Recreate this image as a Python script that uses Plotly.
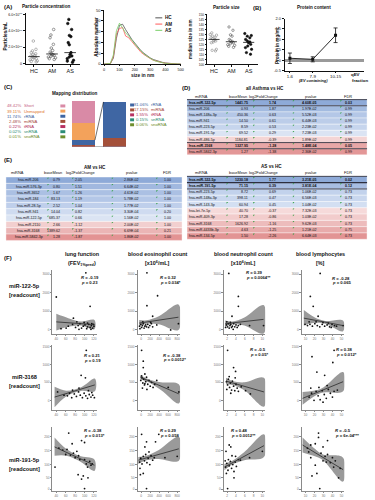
import numpy as np
import plotly.graph_objects as go

W, H = 375, 500
FONT = "Liberation Sans, Arial, sans-serif"

# ---------------- DATA ----------------
GROUPS = ["HC", "AM", "AS"]
CONC_HC = [2.76e10, 1.74e10, 1.55e10, 1.34e10, 1.2e10, 1.13e10, 1.0e10, 0.93e10, 0.85e10,
           0.8e10, 0.73e10, 0.6e10, 0.53e10, 0.45e10, 0.33e10, 0.25e10, 0.2e10]
CONC_AM = [4.17e10, 3.5e10, 3.16e10, 2.35e10, 1.9e10, 1.6e10, 1.4e10, 1.25e10, 1.1e10,
           1.06e10, 1.0e10, 0.9e10, 0.8e10, 0.7e10, 0.6e10, 0.5e10]
CONC_AS = [5.4e10, 4.9e10, 4.17e10, 3.44e10, 3.3e10, 2.56e10, 2.3e10, 1.34e10, 1.1e10,
           0.93e10, 0.8e10, 0.6e10, 0.4e10, 0.3e10, 0.15e10]

SIZE_NM = [0, 20, 40, 60, 80, 100, 120, 140, 160, 180, 200, 220, 240, 260, 280, 300,
           320, 340, 360, 380, 400, 420, 440, 460, 480, 500]
SIZE_HC = [0, 0, 0.4, 5.5, 24, 36, 37, 32, 27, 23, 19.5, 15.5, 12.5, 10, 7.8, 5.8, 4.3,
           3.2, 2.3, 1.6, 1.0, 0.6, 0.3, 0.15, 0.05, 0]
SIZE_AM = [0, 0, 0.5, 7, 28, 33, 34, 26, 24.5, 21, 17.5, 14.5, 11, 8.8, 6.6, 5.2, 3.6,
           2.7, 1.9, 1.3, 0.8, 0.5, 0.25, 0.1, 0.05, 0]
SIZE_AS = [0, 0, 0.6, 8.5, 31, 38, 33.5, 29, 26, 22, 18.5, 15, 12.3, 9.2, 7.2, 5.1, 3.7,
           2.6, 1.8, 1.2, 0.7, 0.4, 0.2, 0.1, 0.05, 0]

PSIZE_HC = [131.6, 129.9, 129.3, 128.3, 127.3, 126.6, 125.7, 125.0, 124.0, 123.4, 122.4,
            121.7, 115.1, 114.1, 113.5]
PSIZE_AM = [137.5, 134.2, 129.6, 128.3, 125.0, 124.0, 123.0, 122.4, 121.7, 120.7, 119.7,
            119.1, 118.1, 117.1]
PSIZE_AS = [130.9, 128.9, 128.3, 126.6, 125.0, 123.4, 122.4, 121.7, 120.1, 118.4, 116.8,
            115.1, 111.8, 110.2]

PROT_FRACTIONS = ["1-6", "7-9", "10-15"]
PROT_MEAN = [0.10, 0.05, 1.20]
PROT_ERR = [0.25, 0.12, 0.35]

MAP_LEFT_LABELS = ["Short", "Unmapped", "rRNA", "miRNA", "tRNA", "snRNA", "snoRNA"]
MAP_LEFT_PCT = [48.42, 39.11, 11.74, 2.48, 0.22, 0.02, 0.01]
MAP_RIGHT_LABELS = ["rRNA", "miRNA", "tRNA", "snRNA", "snoRNA"]
MAP_RIGHT_PCT = [81.06, 17.15, 1.55, 0.15, 0.06]

D_MIRNA = ["hsa-miR-122-5p", "hsa-miR-206", "hsa-miR-148a-3p", "hsa-miR-941", "hsa-miR-223-5p",
           "hsa-miR-191-5p", "hsa-miR-486-5p", "hsa-miR-3168", "hsa-miR-5842-3p"]
D_BASEMEAN = [1441.75, 0.93, 450.36, 14.50, 8.59, 69.52, 1184.81, 1327.95, 1.27]
D_LOG2FC = [1.74, 1.87, 0.63, 0.61, 0.53, 0.29, -0.39, -1.28, -1.38]
D_PVALUE = [4.60e-05, 1.97e-02, 5.52e-03, 6.44e-03, 2.23e-02, 7.23e-03, 1.89e-02, 1.48e-04, 2.36e-02]
D_FDR = [0.03, 0.99, 0.99, 0.99, 0.99, 0.99, 0.99, 0.05, 0.99]

AM_MIRNA = ["hsa-miR-206", "hsa-miR-576-3p", "hsa-miR-3652", "hsa-miR-184", "hsa-miR-28-5p",
            "hsa-miR-941", "hsa-miR-122-5p", "hsa-miR-2110", "hsa-miR-3168", "hsa-miR-5842-3p"]
AM_BASEMEAN = [0.79, 0.80, 1.67, 83.13, 2.52, 14.04, 685.37, 2.66, 1389.62, 1.28]
AM_LOG2FC = [2.05, 1.51, 1.26, 1.19, 1.04, 0.82, 0.66, -1.12, -1.37, -1.87]
AM_PVALUE = [2.86e-02, 6.64e-02, 4.61e-02, 5.78e-02, 1.77e-02, 3.30e-04, 1.56e-02, 2.00e-02, 6.69e-04, 1.86e-02]
AM_FDR = [1.00, 1.00, 1.00, 1.00, 1.00, 0.20, 1.00, 1.00, 0.21, 1.00]

AS_MIRNA = ["hsa-miR-122-5p", "hsa-miR-191-5p", "hsa-miR-223-5p", "hsa-miR-148a-3p", "hsa-miR-143-3p",
            "hsa-let-7e-5p", "hsa-miR-409-3p", "hsa-miR-3168", "hsa-miR-4433b-3p", "hsa-miR-134-5p"]
AS_BASEMEAN = [1230.18, 71.15, 8.72, 398.11, 60.94, 40.70, 17.28, 1626.92, 4.63, 1.50]
AS_LOG2FC = [1.77, 0.39, 0.69, 0.47, 0.45, -0.37, -0.86, -1.16, -1.25, -2.26]
AS_PVALUE = [3.21e-05, 3.81e-04, 1.06e-02, 6.56e-03, 1.04e-02, 7.32e-03, 1.03e-02, 9.62e-03, 1.21e-02, 6.64e-03]
AS_FDR = [0.02, 0.12, 0.73, 0.73, 0.73, 0.73, 0.73, 0.73, 0.75, 0.73]

F_COL_TITLES = [("lung function", "(FEV<sub>1%pred</sub>)"),
                ("blood eosinophil count", "[x10<sup>6</sup>/mL]"),
                ("blood neutrophil count", "[x10<sup>6</sup>/mL]"),
                ("blood lymphocytes", "[%]")]
F_ROW_TITLES = ["miR-122-5p", "miR-3168", "miR-191-5p"]
F_X_TICKTEXT = [["40", "60", "80", "100", "120"], ["0", "200", "400", "600", "800"],
                ["2", "4", "6", "8", "10"], ["10", "20", "30", "40", "50"]]
F_Y_TICKTEXT = [["0", "1000", "2000", "3000"], ["0", "500", "1000", "1500"],
                ["0", "50", "100", "150", "200"]]
F_STATS = [[("-0.19", "0.23"), ("0.32", "0.034*"), ("0.39", "0.0064**"), ("-0.28", "0.065")],
           [("0.21", "0.19"), ("-0.38", "0.0012*"), ("-0.5", "0.05*"), ("0.38", "0.012*")],
           [("-0.38", "0.013*"), ("0.29", "0.058"), ("0.48", "0.0012**"), ("-0.5", "6e-04***")]]

# scatter data (row: miRNA, col: clinical parameter)
P122_FEV_X = [0.7, 7.6, 8.6, 4.7, 1.8, 3.5, 4.5, 5.2, 5.8, 6.2, 6.6, 7.0, 7.4, 7.8, 8.0, 8.3, 8.6, 8.9, 9.2, 9.5, 6.0, 7.2, 8.0, 9.0, 5.5, 3.0, 8.8, 9.4]
P122_FEV_Y = [5.9, 9.8, 4.4, 2.5, 0.8, 1.2, 1.5, 1.0, 1.3, 1.6, 0.9, 1.2, 1.4, 0.8, 1.1, 1.5, 1.0, 1.3, 0.9, 1.2, 0.7, 1.8, 1.7, 1.6, 1.9, 0.9, 0.7, 1.5]
P122_FEV_FIT = [[0.7, 9.6], [1.9, 1.45]]
P122_FEV_BAND = [[0.7, 3.5, 6.5, 9.6], [3.2, 2.5, 1.95, 2.2], [0.5, 1.1, 1.3, 0.7]]

P122_EOS_X = [0.3, 0.6, 0.8, 1.0, 1.2, 1.4, 1.6, 1.8, 2.0, 2.3, 2.5, 2.8, 3.2, 3.5, 0.4, 1.1, 2.1, 4.7, 2.1, 3.5, 9.8, 7.9, 4.5, 3.0]
P122_EOS_Y = [1.2, 1.5, 1.0, 1.3, 1.6, 0.9, 1.2, 1.4, 1.1, 1.5, 1.0, 1.3, 1.6, 1.1, 0.8, 1.9, 9.8, 6.1, 4.5, 2.8, 1.6, 0.6, 1.4, 1.8]
P122_EOS_FIT = [[0.2, 9.8], [1.7, 2.65]]
P122_EOS_BAND = [[0.2, 2, 5, 9.8], [2.2, 2.15, 2.8, 4.7], [1.2, 1.6, 1.5, 0.6]]

P122_NEU_X = [0.3, 0.5, 0.8, 1.0, 1.2, 1.4, 1.6, 1.8, 2.0, 2.3, 2.6, 2.9, 3.2, 3.5, 0.6, 1.5, 1.1, 3.5, 3.5, 1.9, 6.3, 9.8, 2.2, 4.0]
P122_NEU_Y = [1.0, 1.4, 1.1, 1.6, 0.9, 1.3, 1.5, 1.0, 1.2, 1.6, 1.1, 1.4, 1.0, 1.3, 1.9, 1.8, 9.7, 6.0, 4.4, 2.8, 1.3, 1.3, 0.7, 1.5]
P122_NEU_FIT = [[0.2, 9.8], [1.6, 2.3]]
P122_NEU_BAND = [[0.2, 2, 5, 9.8], [2.1, 1.95, 2.6, 4.6], [1.1, 1.5, 1.3, 0.0]]

P122_LYM_X = [1.2, 1.8, 2.4, 3.0, 3.6, 4.2, 4.8, 5.4, 6.0, 6.6, 7.2, 7.8, 8.3, 5.0, 6.3, 4.3, 1.9, 2.6, 3.8, 1.6, 9.9, 0.6, 3.3, 7.0]
P122_LYM_Y = [1.3, 1.5, 1.2, 1.6, 1.3, 1.1, 1.5, 1.2, 1.4, 1.1, 1.5, 1.3, 1.2, 1.8, 1.7, 9.7, 6.0, 4.4, 2.8, 1.9, 1.3, 1.5, 1.9, 1.0]
P122_LYM_FIT = [[0.3, 9.9], [2.5, 1.3]]
P122_LYM_BAND = [[0.3, 3, 5.5, 9.9], [3.8, 2.6, 2.05, 2.1], [1.3, 1.75, 1.6, 0.4]]

P3168_FEV_X = [1.0, 3.3, 3.8, 4.3, 4.9, 5.4, 5.9, 6.3, 6.8, 7.2, 7.6, 8.0, 8.4, 8.8, 9.2, 9.6, 7.7, 6.5, 7.5, 6.0, 8.2, 4.5, 2.5, 9.0]
P3168_FEV_Y = [2.8, 2.2, 2.6, 1.9, 2.5, 2.1, 2.8, 2.3, 1.9, 2.6, 2.2, 1.8, 2.4, 2.0, 2.3, 1.9, 9.3, 5.4, 5.0, 3.4, 3.0, 3.1, 2.3, 2.7]
P3168_FEV_FIT = [[0.3, 9.7], [2.0, 3.9]]
P3168_FEV_BAND = [[0.3, 3, 6.5, 9.7], [3.6, 3.0, 3.55, 4.9], [0.4, 2.1, 2.95, 2.9]]

P3168_EOS_X = [0.6, 0.9, 1.1, 1.3, 1.5, 1.8, 2.0, 2.3, 2.6, 2.9, 3.2, 3.6, 4.0, 0.8, 1.2, 1.2, 1.6, 0.8, 7.3, 9.9, 1.0, 2.1, 4.5, 1.6]
P3168_EOS_Y = [4.6, 5.0, 4.2, 4.8, 3.9, 4.4, 5.1, 4.0, 4.6, 3.7, 4.3, 3.5, 4.0, 9.3, 7.6, 6.6, 5.6, 5.3, 3.5, 2.8, 3.4, 3.2, 4.6, 4.1]
P3168_EOS_FIT = [[0.5, 9.9], [5.1, 2.5]]
P3168_EOS_BAND = [[0.5, 2.5, 5.5, 9.9], [5.4, 4.8, 4.3, 4.0], [4.8, 4.3, 3.1, 1.0]]

P3168_NEU_X = [0.5, 0.8, 1.0, 1.3, 1.5, 1.8, 2.0, 2.3, 2.6, 2.9, 3.2, 3.5, 0.8, 2.3, 2.8, 1.2, 5.3, 4.2, 0.6, 1.6, 2.7, 6.5]
P3168_NEU_Y = [4.4, 3.9, 4.8, 3.5, 4.2, 3.1, 4.5, 3.7, 3.0, 4.0, 3.4, 2.9, 9.3, 6.6, 6.0, 5.2, 3.0, 3.6, 3.2, 2.6, 5.0, 2.5]
P3168_NEU_FIT = [[0.4, 9.9], [4.5, 2.8]]
P3168_NEU_BAND = [[0.4, 2, 5, 9.9], [5.0, 4.5, 4.3, 5.0], [4.0, 3.9, 3.05, 0.5]]

P3168_LYM_X = [1.6, 2.2, 2.8, 3.3, 3.8, 4.3, 4.8, 5.3, 5.8, 6.3, 6.8, 7.3, 7.7, 2.3, 3.5, 5.4, 7.4, 7.7, 6.0, 4.0, 8.5, 2.0, 5.0]
P3168_LYM_Y = [2.0, 2.6, 1.5, 2.9, 2.2, 1.6, 3.0, 2.4, 1.8, 3.2, 2.6, 2.0, 2.9, 8.3, 5.9, 5.4, 7.4, 9.3, 3.8, 3.5, 3.1, 3.4, 1.2]
P3168_LYM_FIT = [[0.0, 9.9], [1.8, 4.4]]
P3168_LYM_BAND = [[0.0, 4.5, 9.9], [2.8, 3.3, 5.9], [0.8, 2.65, 2.9]]

P191_FEV_X = [0.4, 1.3, 2.2, 2.9, 3.6, 4.0, 4.4, 5.1, 5.5, 5.8, 6.2, 6.6, 6.6, 7.0, 7.3, 7.3, 7.3, 7.7, 8.0, 8.1, 8.8, 9.1, 4.7, 3.2, 5.9, 8.5]
P191_FEV_Y = [3.8, 6.8, 6.5, 5.8, 9.2, 5.7, 7.5, 5.3, 6.3, 2.6, 5.0, 8.0, 1.9, 2.4, 7.7, 5.0, 0.4, 4.3, 3.8, 2.1, 4.1, 4.3, 6.0, 6.6, 5.6, 4.7]
P191_FEV_FIT = [[0.3, 9.6], [7.0, 4.1]]
P191_FEV_BAND = [[0.3, 3, 6, 9.6], [8.5, 6.7, 5.6, 5.0], [5.6, 5.6, 4.8, 3.2]]

P191_EOS_X = [0.3, 0.6, 0.9, 1.2, 1.5, 1.8, 2.1, 2.4, 2.8, 3.1, 3.5, 3.9, 0.8, 2.0, 1.6, 5.0, 4.2, 0.5, 1.2, 2.0, 6.5, 9.5, 0.4, 2.6]
P191_EOS_Y = [4.6, 5.2, 4.3, 5.5, 4.8, 5.8, 4.5, 5.2, 4.2, 5.6, 4.9, 5.3, 9.0, 7.8, 7.0, 9.0, 7.8, 2.6, 2.8, 0.4, 5.3, 5.5, 3.6, 6.2]
P191_EOS_FIT = [[0.0, 9.9], [4.9, 6.7]]
P191_EOS_BAND = [[0.0, 2, 5, 9.9], [5.4, 5.6, 6.5, 8.6], [4.3, 4.9, 5.1, 4.8]]

P191_NEU_X = [0.3, 0.6, 0.9, 1.2, 1.5, 1.8, 2.1, 2.4, 2.7, 3.0, 0.5, 1.0, 1.2, 1.6, 0.4, 2.8, 2.4, 0.8, 9.5, 6.3, 4.0, 0.2, 1.9, 3.5]
P191_NEU_Y = [3.8, 4.4, 3.3, 4.0, 4.7, 3.6, 4.2, 3.1, 4.6, 3.9, 2.8, 5.0, 7.3, 7.0, 6.3, 5.5, 2.1, 0.4, 6.3, 5.3, 4.9, 4.8, 5.6, 5.0]
P191_NEU_FIT = [[0.0, 9.9], [3.8, 7.2]]
P191_NEU_BAND = [[0.0, 2, 5, 9.9], [4.3, 4.8, 6.2, 9.0], [3.3, 4.2, 4.9, 5.4]]

P191_LYM_X = [3.9, 3.9, 3.1, 2.0, 1.2, 5.0, 6.1, 6.1, 7.3, 5.0, 3.1, 5.8, 7.6, 8.8, 3.5, 2.3, 4.2, 2.0, 8.0, 4.5, 5.5, 6.8, 1.5, 9.2]
P191_LYM_Y = [9.2, 8.5, 7.5, 7.3, 6.8, 7.0, 8.0, 5.8, 5.3, 4.8, 4.1, 4.6, 3.8, 2.1, 2.8, 2.4, 0.4, 5.3, 4.8, 6.0, 5.5, 4.5, 6.2, 3.6]
P191_LYM_FIT = [[0.0, 9.9], [7.3, 3.4]]
P191_LYM_BAND = [[0.0, 3, 5, 9.9], [8.5, 6.7, 5.8, 5.3], [6.1, 5.5, 4.9, 1.5]]

F_PANELS = [
    [(P122_FEV_X, P122_FEV_Y, P122_FEV_FIT, P122_FEV_BAND), (P122_EOS_X, P122_EOS_Y, P122_EOS_FIT, P122_EOS_BAND),
     (P122_NEU_X, P122_NEU_Y, P122_NEU_FIT, P122_NEU_BAND), (P122_LYM_X, P122_LYM_Y, P122_LYM_FIT, P122_LYM_BAND)],
    [(P3168_FEV_X, P3168_FEV_Y, P3168_FEV_FIT, P3168_FEV_BAND), (P3168_EOS_X, P3168_EOS_Y, P3168_EOS_FIT, P3168_EOS_BAND),
     (P3168_NEU_X, P3168_NEU_Y, P3168_NEU_FIT, P3168_NEU_BAND), (P3168_LYM_X, P3168_LYM_Y, P3168_LYM_FIT, P3168_LYM_BAND)],
    [(P191_FEV_X, P191_FEV_Y, P191_FEV_FIT, P191_FEV_BAND), (P191_EOS_X, P191_EOS_Y, P191_EOS_FIT, P191_EOS_BAND),
     (P191_NEU_X, P191_NEU_Y, P191_NEU_FIT, P191_NEU_BAND), (P191_LYM_X, P191_LYM_Y, P191_LYM_FIT, P191_LYM_BAND)],
]

# ---------------- helpers ----------------
fig = go.Figure()
annotations, shapes, axes = [], [], {}
n_ax = [0]


def fx(px):
    return px / W


def fy(py):
    return 1 - py / H


def text(x, y, s, size=4.5, color="#111111", anchor="center", bold=False, angle=0,
         xref="paper", yref="paper", yanchor="middle", conv=True):
    if bold:
        s = f"<b>{s}</b>"
    annotations.append(dict(x=fx(x) if conv else x, y=fy(y) if conv else y, xref=xref, yref=yref,
                            text=s, showarrow=False, textangle=angle,
                            font=dict(size=size, color=color, family=FONT),
                            xanchor=anchor, yanchor=yanchor, borderpad=0))


def add_axes(l, r, t, b, xkw=None, ykw=None):
    n_ax[0] += 1
    s = "" if n_ax[0] == 1 else str(n_ax[0])
    base = dict(showgrid=False, zeroline=False, fixedrange=True)
    xa = dict(base, domain=[fx(l), fx(r)], anchor="y" + s)
    xa.update(xkw or {})
    ya = dict(base, domain=[fy(b), fy(t)], anchor="x" + s)
    ya.update(ykw or {})
    axes["xaxis" + s] = xa
    axes["yaxis" + s] = ya
    return "x" + s, "y" + s


def line_axis(**kw):
    d = dict(showline=True, linecolor="#111111", linewidth=0.8, ticks="outside", ticklen=2,
             tickwidth=0.7, tickcolor="#111111", tickfont=dict(size=4, family=FONT, color="#111111"))
    d.update(kw)
    return d


# ---------------- Panel A ----------------
text(2, 4, "(A)", 6, bold=True, anchor="left")
text(45, 4, "Particle concentration", 4.6, bold=True)
xa, ya = add_axes(25, 80, 10, 62,
                  line_axis(range=[-0.45, 2.55], tickvals=[0, 1, 2], ticktext=GROUPS, ticklen=1.5,
                            tickfont=dict(size=5.5, family=FONT, color="#111")),
                  line_axis(range=[-0.1e10, 6.2e10], tickvals=[0, 2e10, 4e10, 6e10],
                            ticktext=["0", "2.0×10<sup>10</sup>", "4.0×10<sup>10</sup>", "6.0×10<sup>10</sup>"],
                            tickfont=dict(size=3.6, family=FONT, color="#111")))
text(5, 33, "Particles/mL", 4.8, bold=True, angle=-90)
conc_style = [("circle-open", "#8a8a8a"), ("circle-open", "#555555"), ("circle", "#111111")]
for i, vals in enumerate([CONC_HC, CONC_AM, CONC_AS]):
    sym, col = conc_style[i]
    fig.add_trace(go.Box(x=[i] * len(vals), y=vals, boxpoints="all", jitter=0.9, pointpos=0, width=0.55,
                         fillcolor="rgba(0,0,0,0)", line=dict(color="rgba(0,0,0,0)", width=0),
                         marker=dict(symbol=sym, color=col, size=2.6, line=dict(width=0.6, color=col)),
                         xaxis=xa, yaxis=ya, hoverinfo="skip"))
    m = float(np.median(vals))
    fig.add_trace(go.Scatter(x=[i - 0.32, i + 0.32], y=[m, m], mode="lines",
                             line=dict(color="#111", width=0.8), xaxis=xa, yaxis=ya))

xa, ya = add_axes(104.3, 181.7, 7.3, 61.7,
                  line_axis(range=[0, 500], tickvals=[0, 100, 200, 300, 400, 500], ticklen=1.5,
                            tickfont=dict(size=3.8, family=FONT, color="#111")),
                  line_axis(range=[0, 50], tickvals=[0, 10, 20, 30, 40, 50]))
text(97, 34, "Absolute number", 4.8, bold=True, angle=-90)
text(143, 73, "size in nm", 4.8, bold=True)
size_cols = [("HC", SIZE_HC, "#555555"), ("AM", SIZE_AM, "#ff5a5a"), ("AS", SIZE_AS, "#79cf68")]
for k, (nm, vals, col) in enumerate(size_cols):
    fig.add_trace(go.Scatter(x=SIZE_NM, y=vals, mode="lines", line=dict(color=col, width=0.8),
                             xaxis=xa, yaxis=ya, name=nm))
    yy = 15 + k * 6.3
    shapes.append(dict(type="line", xref="paper", yref="paper", x0=fx(156), x1=fx(163), y0=fy(yy), y1=fy(yy),
                       line=dict(color=col, width=1)))
    text(165, yy, nm, 4.6, bold=True, anchor="left")

text(228, 5, "Particle size", 4.6, bold=True)
xa, ya = add_axes(208.3, 260, 11.3, 62,
                  line_axis(range=[-0.4, 2.55], tickvals=[0, 1, 2], ticktext=GROUPS, ticklen=1.5,
                            tickfont=dict(size=5.5, family=FONT, color="#111")),
                  line_axis(range=[100, 150.3], tickvals=list(range(100, 151, 5)),
                            tickfont=dict(size=3.2, family=FONT, color="#111"), ticklen=1.5))
text(191.5, 36, "median size in nm", 4.6, bold=True, angle=-90)
for i, vals in enumerate([PSIZE_HC, PSIZE_AM, PSIZE_AS]):
    sym, col = conc_style[i]
    fig.add_trace(go.Box(x=[i] * len(vals), y=vals, boxpoints="all", jitter=0.9, pointpos=0, width=0.55,
                         fillcolor="rgba(0,0,0,0)", line=dict(color="rgba(0,0,0,0)", width=0),
                         marker=dict(symbol=sym, color=col, size=2.4, line=dict(width=0.6, color=col)),
                         xaxis=xa, yaxis=ya, hoverinfo="skip"))
    m = float(np.median(vals))
    fig.add_trace(go.Scatter(x=[i - 0.32, i + 0.32], y=[m, m], mode="lines",
                             line=dict(color="#111", width=0.8), xaxis=xa, yaxis=ya))

# ---------------- Panel B ----------------
text(254, 5, "(B)", 6, bold=True, anchor="left")
text(316, 5, "Protein content", 4.6, bold=True)
xa, ya = add_axes(286.7, 367, 15.7, 68.5,
                  line_axis(range=[-0.23, 3.25], tickvals=[0, 1, 2], ticktext=PROT_FRACTIONS, ticklen=1.5,
                            tickfont=dict(size=4.4, family=FONT, color="#111")),
                  line_axis(range=[-0.5, 2.0], tickvals=[-0.5, 0, 0.5, 1.0, 1.5, 2.0],
                            ticktext=["-0.5", "0.0", "0.5", "1.0", "1.5", "2.0"],
                            zeroline=True, zerolinecolor="#9a9a9a", zerolinewidth=3))
text(279.5, 43, "Protein in mg/mL", 4.6, bold=True, angle=-90)
fig.add_trace(go.Scatter(x=[0, 1, 2], y=PROT_MEAN, mode="lines+markers",
                         line=dict(color="#111", width=0.9),
                         marker=dict(symbol="square", size=3, color="#111"),
                         error_y=dict(type="data", array=PROT_ERR, color="#111", thickness=0.8, width=2),
                         xaxis=xa, yaxis=ya))
text(316, 78.5, "<i>(EV containing)</i>", 3.9, bold=True)
text(353, 72.5, "qEV", 4.4, bold=True, anchor="left")
text(354, 78.5, "fraction", 4.4, bold=True, anchor="left")

# ---------------- Panel C ----------------
CAT_COLORS = {"Short": "#d98aa6", "Unmapped": "#f3a25b", "rRNA": "#3f66a3", "miRNA": "#a4503a",
              "tRNA": "#b83262", "snRNA": "#2c8c77", "snoRNA": "#6f8f2e"}
TXT_COLORS = {"Short": "#c55f80", "Unmapped": "#e0762e", "rRNA": "#3a5e9c", "miRNA": "#a4443a",
              "tRNA": "#b02a55", "snRNA": "#1e8a6e", "snoRNA": "#6a8a24"}
text(2, 85, "(C)", 6, bold=True, anchor="left")
text(75, 91, "Mapping distribution", 4.6, bold=True)
xa, ya = add_axes(70.5, 128, 99, 145,
                  dict(range=[-0.55, 1.92], visible=False), dict(range=[0, 102.0], visible=False))
BAR2_X = 1.37
for lab in reversed(MAP_LEFT_LABELS):
    v1 = MAP_LEFT_PCT[MAP_LEFT_LABELS.index(lab)]
    v2 = MAP_RIGHT_PCT[MAP_RIGHT_LABELS.index(lab)] if lab in MAP_RIGHT_LABELS else 0
    fig.add_trace(go.Bar(x=[0, BAR2_X], y=[v1, v2], width=[1, 1], marker=dict(color=CAT_COLORS[lab], line=dict(width=0)),
                         xaxis=xa, yaxis=ya))
sub_top = sum(MAP_LEFT_PCT[2:])
bar2_top = sum(MAP_RIGHT_PCT)
shapes.append(dict(type="line", xref=xa, yref=ya, x0=0.5, x1=BAR2_X - 0.5, y0=sub_top, y1=bar2_top,
                   line=dict(color="#111", width=0.6)))
shapes.append(dict(type="line", xref=xa, yref=ya, x0=0.5, x1=BAR2_X - 0.5, y0=0, y1=0,
                   line=dict(color="#111", width=0.6)))
for i, (lab, p) in enumerate(zip(MAP_LEFT_LABELS, MAP_LEFT_PCT)):
    yy = 104 + i * 5.2
    text(21, yy, f"{p:.2f}%", 4.2, color=TXT_COLORS[lab], anchor="right")
    text(22.5, yy, lab, 4.2, color=TXT_COLORS[lab], anchor="left")
    shapes.append(dict(type="rect", xref="paper", yref="paper", x0=fx(60), x1=fx(65), y0=fy(yy + 1.5),
                       y1=fy(yy - 1.5), fillcolor=CAT_COLORS[lab], line=dict(width=0)))
for i, (lab, p) in enumerate(zip(MAP_RIGHT_LABELS, MAP_RIGHT_PCT)):
    yy = 103 + i * 5
    text(149.5, yy, f"{p:.2f}%", 4.2, color=TXT_COLORS[lab], anchor="right")
    text(151, yy, lab, 4.2, color=TXT_COLORS[lab], anchor="left")
    shapes.append(dict(type="rect", xref="paper", yref="paper", x0=fx(130.5), x1=fx(134.5), y0=fy(yy + 1.5),
                       y1=fy(yy - 1.5), fillcolor=CAT_COLORS[lab], line=dict(width=0)))


# ---------------- Tables (D, E) ----------------
def draw_table(names, base, lfc, pval, fdr, colors, x0, x1, y_first, rh, header_y, header_x,
               name_x, name_anchor, val_x, tri_x):
    headers = ["miRNA", "baseMean", "log2FoldChange", "pvalue", "FDR"]
    for hx, h in zip(header_x, headers):
        text(hx, header_y, h, 3.9)
    for i, nm in enumerate(names):
        yc = y_first + i * rh
        top, bot = yc - rh / 2, yc + rh / 2
        shapes.append(dict(type="rect", xref="paper", yref="paper", x0=fx(x0), x1=fx(x1), y0=fy(bot), y1=fy(top),
                           fillcolor=colors[i], line=dict(color="white", width=0.4), layer="below"))
        bold = fdr[i] <= 0.15
        if bold:
            for yb in (top, bot):
                shapes.append(dict(type="line", xref="paper", yref="paper", x0=fx(x0), x1=fx(x1), y0=fy(yb),
                                   y1=fy(yb), line=dict(color="#1a1a2a", width=0.8)))
        for tx in tri_x:
            shapes.append(dict(type="path", xref="paper", yref="paper",
                               path=f"M {fx(tx)} {fy(top + 0.6)} L {fx(tx + 1.6)} {fy(top + 0.6)} L {fx(tx)} {fy(top + 2.2)} Z",
                               fillcolor="#2e9e3e", line=dict(width=0)))
        text(name_x, yc, nm, 3.6, anchor=name_anchor, bold=bold)
        vals = [f"{base[i]:.2f}", f"{lfc[i]:.2f}", f"{pval[i]:.2E}", f"{fdr[i]:.2f}"]
        for vx, v in zip(val_x, vals):
            text(vx, yc, v, 3.6, anchor="right", bold=bold)


D_COLORS = ["#8eaad8", "#a3bbe0", "#b4c7e7", "#bccde9", "#c6d5ed", "#dbe4f3", "#f4d5d5", "#e8a7a7", "#e39797"]
AM_COLORS = ["#8eaad8", "#a1b8df", "#abc0e3", "#b4c7e7", "#bfcfeb", "#cfdbf0", "#dbe4f3", "#f2cfcf", "#ebb5b5", "#e39393"]
AS_COLORS = ["#8eaad8", "#a8bde2", "#c2d2ec", "#c9d7ee", "#d3dff2", "#f6dada", "#f2cccc", "#edbcbc", "#e8abab", "#e29494"]

text(182, 86, "(D)", 6, bold=True, anchor="left")
text(267, 86.5, "all Asthma vs HC", 4.6, bold=True)
draw_table(D_MIRNA, D_BASEMEAN, D_LOG2FC, D_PVALUE, D_FDR, D_COLORS, 188, 370, 100.7, 6.2, 94,
           [203, 240, 265, 313, 351], 189, "left", [251, 279, 320, 356], [228, 255, 295, 343])

text(2, 159, "(E)", 6, bold=True, anchor="left")
text(95, 166, "AM vs HC", 4.6, bold=True)
draw_table(AM_MIRNA, AM_BASEMEAN, AM_LOG2FC, AM_PVALUE, AM_FDR, AM_COLORS, 5, 183, 179, 6.4, 171.5,
           [17, 53, 80, 132, 168], 28, "center", [61, 83, 140, 173], [47, 72, 112, 157])
text(273, 165.5, "AS vs HC", 4.6, bold=True)
draw_table(AS_MIRNA, AS_BASEMEAN, AS_LOG2FC, AS_PVALUE, AS_FDR, AS_COLORS, 188, 370, 178.3, 6.35, 171.5,
           [203, 240, 265, 313, 351], 189, "left", [251, 279, 320, 356], [228, 255, 295, 343])

# ---------------- Panel F ----------------
text(2, 258, "(F)", 6, bold=True, anchor="left")
F_COL_BOX = [(52, 97), (138, 181), (225, 267), (304, 347)]
F_ROW_BOX = [(270, 334), (345, 411), (428, 493)]
F_TITLE_X = [82, 158, 245, 323]
F_ROW_LABEL_Y = [(286, 295), (378, 387), (462, 471)]
F_Y_TICKVALS = [[0.6, 3.6, 6.6, 9.6], [1.45, 4.3, 7.1, 9.9], [0.3, 2.1, 4.2, 6.4, 8.6]]
F_STAT_POS = [[(0.62, 0.89), (0.51, 0.89), (0.52, 0.96), (0.69, 0.875)],
              [(0.69, 0.83), (0.58, 0.84), (0.6, 0.925), (0.79, 0.925)],
              [(0.69, 0.945), (0.51, 0.945), (0.16, 0.945), (0.76, 0.94)]]
for c, (t1, t2) in enumerate(F_COL_TITLES):
    text(F_TITLE_X[c], 254, t1, 5.4, bold=True)
    text(F_TITLE_X[c], 263, t2, 5.4, bold=True)
for r, lab in enumerate(F_ROW_TITLES):
    text(24, F_ROW_LABEL_Y[r][0], lab, 5.6, bold=True)
    text(24, F_ROW_LABEL_Y[r][1], "[readcount]", 5.6, bold=True)

faxis = dict(showline=True, linecolor="#8a8a8a", linewidth=0.6, ticks="outside", ticklen=1.5,
             tickwidth=0.5, tickcolor="#8a8a8a", tickfont=dict(size=3.2, family=FONT, color="#777"))
for r in range(3):
    t, b = F_ROW_BOX[r]
    for c in range(4):
        l, rr = F_COL_BOX[c]
        xs, ys, fit, band = F_PANELS[r][c]
        xa, ya = add_axes(l, rr, t, b,
                          dict(faxis, range=[-0.2, 10.2], tickvals=[0.7, 2.9, 5.1, 7.3, 9.5], ticktext=F_X_TICKTEXT[c]),
                          dict(faxis, range=[0, 10.2], tickvals=F_Y_TICKVALS[r], ticktext=F_Y_TICKTEXT[r]))
        bx, bu, bl = band
        fig.add_trace(go.Scatter(x=list(bx) + list(bx)[::-1], y=list(bu) + list(bl)[::-1], mode="lines",
                                 fill="toself", fillcolor="rgba(125,125,125,0.78)", line=dict(width=0, shape="spline"),
                                 xaxis=xa, yaxis=ya, hoverinfo="skip"))
        fig.add_trace(go.Scatter(x=xs, y=ys, mode="markers", marker=dict(size=1.8, color="#111"),
                                 xaxis=xa, yaxis=ya))
        fig.add_trace(go.Scatter(x=fit[0], y=fit[1], mode="lines", line=dict(color="#2a2a2a", width=0.8),
                                 xaxis=xa, yaxis=ya))
        rv, pv = F_STATS[r][c]
        sx, sy = F_STAT_POS[r][c]
        text(sx, sy, f"<b><i>R</i> = {rv}</b>", 4.2, anchor="left", xref=f"{xa} domain", yref=f"{ya} domain",
             conv=False)
        text(sx, sy - 0.075, f"<b><i>p</i> = {pv}</b>", 4.2, anchor="left", xref=f"{xa} domain",
             yref=f"{ya} domain", conv=False)

fig.update_layout(width=W, height=H, margin=dict(l=0, r=0, t=0, b=0), showlegend=False,
                  paper_bgcolor="white", plot_bgcolor="white", barmode="stack",
                  font=dict(family=FONT, size=5), annotations=annotations, shapes=shapes, **axes)
fig.write_html("out.html", config={"displayModeBar": False},
               post_script="document.body.style.margin='0';document.body.style.padding='0';")
